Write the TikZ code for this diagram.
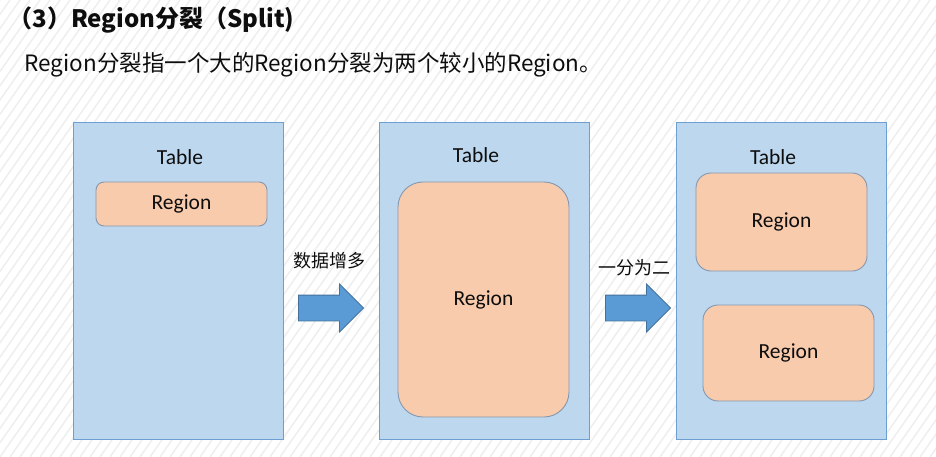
\documentclass[tikz,border=0pt]{standalone}
\usepackage{fontspec}
\setmainfont{Carlito}
\newfontfamily\cjk{Noto Sans CJK SC}
\usetikzlibrary{shapes.arrows,positioning}
\definecolor{tablefill}{HTML}{BDD7EE}
\definecolor{tableline}{HTML}{6E9FD3}
\definecolor{regionfill}{HTML}{F8CBAD}
\definecolor{regionline}{HTML}{8497B0}
\definecolor{arrowfill}{HTML}{5B9BD5}
\definecolor{arrowline}{HTML}{41719C}
\definecolor{stripe}{HTML}{EEEEEE}
\definecolor{ink}{HTML}{0D0D0D}
\tikzset{tablebox/.style={draw=tableline, fill=tablefill, line width=.8pt, minimum width=210pt, minimum height=317pt, inner sep=0pt}, regionbox/.style={draw=regionline, fill=regionfill, line width=.9pt, minimum width=171pt, inner sep=0pt, font=\fontsize{21.5}{25}\selectfont, text=ink}, tabletext/.style={font=\fontsize{21.5}{25}\selectfont, text=ink}, growarrow/.style={single arrow, draw=arrowline, fill=arrowfill, line width=.8pt, minimum height=65pt, minimum width=47pt, inner sep=0pt, inner ysep=12.5pt, single arrow head extend=11pt, single arrow head indent=0pt}, steptext/.style={font=\cjk\fontsize{18}{22}\selectfont, text=ink}, stripeline/.style={draw=stripe, line width=1.5pt}}

\begin{document}
\begin{tikzpicture}[x=1pt,y=-1pt]
\useasboundingbox (0,0) rectangle (936,457);
\begin{scope}
\clip (0,0) rectangle (936,457);
\foreach \i in {-320,-310,...,940} \draw[stripeline] (\i,457) -- ++(320,-457);
\end{scope}
\node[anchor=west, text=ink, font=\cjk\bfseries\fontsize{24}{28}\selectfont] (title) at (5,20) {（3）Region分裂（Split)};
\node[anchor=west, text=ink, font=\cjk\fontsize{22.5}{26}\selectfont] (intro) at (21,65) {Region分裂指一个大的Region分裂为两个较小的Region。};
% tables
\node[tablebox] (t1) at (178.5,280.5) {}; \node[tablebox] (t2) at (484,280.5) {}; \node[tablebox] (t3) at (781,280.5) {};
\node[tabletext] (tl1) at (180,157) {Table}; \node[tabletext] (tl2) at (476,155) {Table}; \node[tabletext] (tl3) at (773,157) {Table};
% regions
\node[regionbox, minimum height=44pt, rounded corners=8pt] (r1) at (181.5,204) {Region};
\node[regionbox, minimum height=235pt, rounded corners=25pt] (r2) at (483.5,299.5) {Region};
\node[regionbox, minimum height=98pt, rounded corners=15pt] (r3a) at (781.5,222) {Region};
\node[regionbox, minimum height=96pt, rounded corners=15pt] (r3b) at (788.5,353) {Region};
% steps
\node[growarrow] (a1) at (324.5,308) {}; \node[growarrow] (a2) at (631.5,308) {};
\node[steptext] (s1) at (329,261) {数据增多}; \node[steptext] (s2) at (634,268) {一分为二};
\end{tikzpicture}
\end{document}
